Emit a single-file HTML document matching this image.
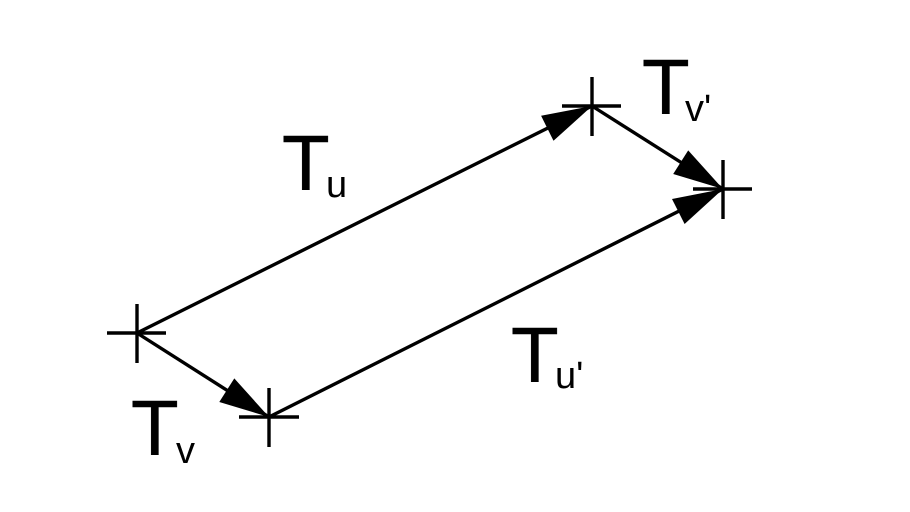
<!DOCTYPE html>
<html><head><style>body{margin:0;background:#fff}svg{display:block}</style></head><body>
<svg width="910" height="512" viewBox="0 0 910 512" xmlns="http://www.w3.org/2000/svg">
<rect width="910" height="512" fill="#fff"/>
<g stroke="#000" stroke-width="3.4" fill="none">
<line x1="137" y1="333" x2="592" y2="106"/>
<line x1="137" y1="333" x2="269" y2="417"/>
<line x1="592" y1="106" x2="723" y2="189"/>
<line x1="269" y1="417" x2="723" y2="189"/>
<line x1="137" y1="304" x2="137" y2="363"/><line x1="107" y1="333" x2="166" y2="333"/>
<line x1="269" y1="388" x2="269" y2="447"/><line x1="239" y1="417" x2="299" y2="417"/>
<line x1="592" y1="77" x2="592" y2="136"/><line x1="562" y1="106" x2="621" y2="106"/>
<line x1="723" y1="160" x2="723" y2="219"/><line x1="693" y1="189" x2="752" y2="189"/>
</g>
<g fill="#000">
<polygon points="592,106 553.5,140.8 541.1,115.8"/>
<polygon points="269,417 219.3,402 234.3,378.4"/>
<polygon points="723,189 673.2,174 688.2,150.4"/>
<polygon points="723,189 684.6,224 672,199"/>
</g>
<g font-family="Liberation Sans, sans-serif" fill="#000">
<g stroke="#000" stroke-width="0.5" font-size="78">
<text x="282" y="190">T</text>
<text x="131" y="455">T</text>
<text x="642" y="114">T</text>
<text x="511" y="382">T</text>
</g>
<g font-size="38">
<text x="326" y="197">u</text>
<text x="176" y="463">v</text>
<text x="685" y="121">v'</text>
<text x="555" y="388">u'</text>
</g>
</g>
</svg>
</body></html>
